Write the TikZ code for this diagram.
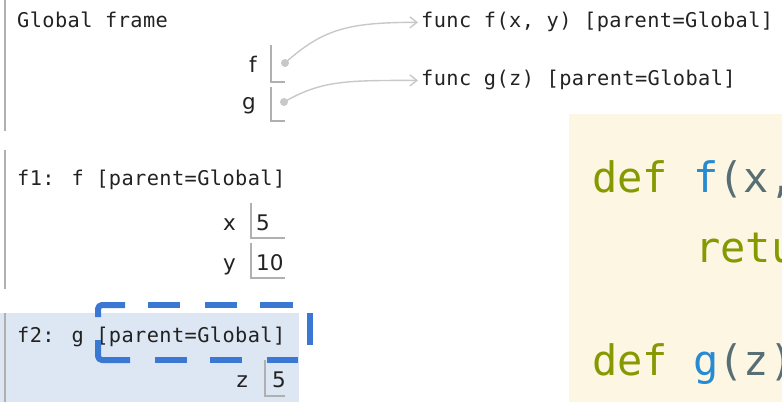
\documentclass[tikz,border=0pt]{standalone}
\usepackage{fontspec}
\usetikzlibrary{arrows.meta}
\newfontfamily\framefont[LetterSpace=2]{DejaVu Sans Mono}
\newfontfamily\codefont{DejaVu Sans Mono}
\newfontfamily\labelfont{DejaVu Sans}
\definecolor{bartone}{HTML}{B0B0B0}
\definecolor{linktone}{HTML}{C8C8C8}
\definecolor{textdark}{HTML}{222222}
\definecolor{activebg}{HTML}{DDE6F3}
\definecolor{hilite}{HTML}{3A78D4}
\definecolor{codebg}{HTML}{FDF6E3}
\definecolor{kwgreen}{HTML}{859900}
\definecolor{fnblue}{HTML}{268BD2}
\definecolor{plaingrey}{HTML}{586E75}
\tikzset{
  frametitle/.style={anchor=base west, inner sep=0pt, text=textdark, font=\framefont\fontsize{20.3}{20}\selectfont},
  varname/.style={anchor=base east, inner sep=0pt, text=textdark, font=\labelfont\fontsize{21.5}{21}\selectfont},
  varval/.style={anchor=base west, inner sep=0pt, text=textdark, font=\labelfont\fontsize{21.5}{21}\selectfont},
  codeline/.style={anchor=base west, inner sep=0pt, font=\codefont\fontsize{42}{42}\selectfont},
  framebar/.style={draw=bartone, line width=2pt},
  cellline/.style={draw=bartone, line width=1.2pt},
  ptrdot/.style={circle, fill=linktone, inner sep=0pt, minimum size=8pt},
  ptrlink/.style={draw=linktone, line width=1.4pt, -{Straight Barb[length=7pt,width=11pt,line width=1.4pt]}},
  hidash/.style={draw=hilite, line width=6pt, line cap=butt, line join=round}
}
\begin{document}
\begin{tikzpicture}[x=1pt, y=-1pt]
\useasboundingbox (0,0) rectangle (782,402);
% code panel
\fill[codebg] (569,114) rectangle (782,402);
\begin{scope}
\clip (569,114) rectangle (782,402);
\node[codeline] (code1) at (592,192) {\textcolor{kwgreen}{def} \textcolor{fnblue}{f}\textcolor{plaingrey}{(x,}};
\node[codeline] (code2) at (695,262) {\textcolor{kwgreen}{retu}};
\node[codeline] (code3) at (592,375) {\textcolor{kwgreen}{def} \textcolor{fnblue}{g}\textcolor{plaingrey}{(z)}};
\end{scope}
% active frame background
\fill[activebg] (0,313) rectangle (299,402);
% frame bars
\draw[framebar] (5,0) -- (5,131);
\draw[framebar] (5,150) -- (5,289);
\draw[framebar] (5,313) -- (5,402);
% Global frame
\node[frametitle] (gtitle) at (17,27) {Global frame};
\node[varname] (fname) at (257,72) {f};
\node[varname] (gname) at (256,109) {g};
\draw[cellline] (271,45) -- (271,82) -- (285,82);
\draw[cellline] (271,87) -- (271,121) -- (285,121);
\node[ptrdot] (fdot) at (285,63) {};
\node[ptrdot] (gdot) at (284,102) {};
% function objects
\node[frametitle] (ffunc) at (421,27) {func f(x, y) [parent=Global]};
\node[frametitle] (gfunc) at (421,85) {func g(z) [parent=Global]};
\draw[ptrlink] (fdot.center) .. controls +(38,-34) and +(-70,0) .. ([xshift=-3pt,yshift=-1pt]ffunc.west);
\draw[ptrlink] (gdot.center) .. controls +(38,-22) and +(-70,0) .. ([xshift=-3pt,yshift=-1pt]gfunc.west);
% f1 frame
\node[frametitle] (f1title) at (17,185) {f1: f [parent=Global]};
\node[varname] (xname) at (236,230) {x};
\node[varval] (xval) at (256,230) {5};
\draw[cellline] (251,203) -- (251,238) -- (285,238);
\node[varname] (yname) at (236,270) {y};
\node[varval] (yval) at (256,270) {10};
\draw[cellline] (251,243) -- (251,278) -- (285,278);
% f2 frame
\node[frametitle] (f2title) at (17,342) {f2: g [parent=Global]};
\node[varname] (zname) at (248,387) {z};
\node[varval] (zval) at (272,387) {5};
\draw[cellline] (265,360) -- (265,396) -- (285,396);
% dashed highlight
\draw[hidash, rounded corners=4pt] (98,317) -- (98,305) -- (125,305);
\draw[hidash] (148,305) -- (180,305);
\draw[hidash] (205,305) -- (237,305);
\draw[hidash] (260,305) -- (293,305);
\draw[hidash] (310,313) -- (310,345);
\draw[hidash] (298,360) -- (267,360);
\draw[hidash] (242,360) -- (210,360);
\draw[hidash] (187,360) -- (155,360);
\draw[hidash, rounded corners=4pt] (130,360) -- (98,360) -- (98,340);
\end{tikzpicture}
\end{document}
